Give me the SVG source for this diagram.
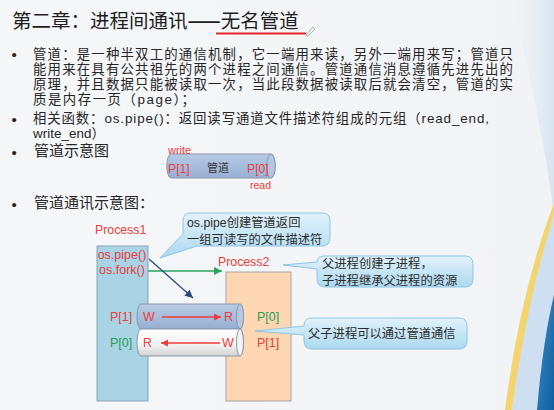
<svg xmlns="http://www.w3.org/2000/svg" width="554" height="410" viewBox="0 0 554 410">
<defs>
<style>
.t{font-family:"Liberation Sans","Noto Sans CJK SC",sans-serif;}
.body{font-size:15px;fill:#262626}
.para{font-size:13.4px}
.red{fill:#e8403a}
.green{fill:#2a9d55}
.lbl{font-size:12.5px}
.call{font-size:12.3px;fill:#2b2b2b}
.callout{fill:url(#callg);stroke:#8ec6e4;stroke-width:1}
.pstroke{stroke:#8a98aa;stroke-width:1}
</style>
<linearGradient id="bg" x1="0" y1="0" x2="1" y2="0"><stop offset="0" stop-color="#f6f7f9"/><stop offset="1" stop-color="#f1f3f6"/></linearGradient>
<linearGradient id="callg" x1="0" y1="0" x2="0" y2="1"><stop offset="0" stop-color="#e2f2fb"/><stop offset="1" stop-color="#acd9ef"/></linearGradient>
<linearGradient id="blueCyl" x1="0" y1="0" x2="0" y2="1"><stop offset="0" stop-color="#b8cbe6"/><stop offset="0.5" stop-color="#a7bddd"/><stop offset="1" stop-color="#98afd2"/></linearGradient>
<linearGradient id="whiteCyl" x1="0" y1="0" x2="0" y2="1"><stop offset="0" stop-color="#ffffff"/><stop offset="0.6" stop-color="#f2f2f2"/><stop offset="1" stop-color="#d2d2d2"/></linearGradient>
<linearGradient id="dblue" x1="0" y1="0" x2="1" y2="1"><stop offset="0" stop-color="#3d8cc8"/><stop offset="1" stop-color="#0f5f9f"/></linearGradient>
<linearGradient id="pale" x1="0" y1="0" x2="1" y2="0"><stop offset="0" stop-color="#e8eef5" stop-opacity="0"/><stop offset="1" stop-color="#d6e3ef"/></linearGradient>
<marker id="ahRed" viewBox="0 0 10 10" refX="10" refY="5" markerWidth="8" markerHeight="7" markerUnits="userSpaceOnUse" orient="auto"><path d="M0,0 L10,5 L0,10 Z" fill="#f03c3c"/></marker>
<marker id="ahGreen" viewBox="0 0 10 10" refX="10" refY="5" markerWidth="9" markerHeight="8" markerUnits="userSpaceOnUse" orient="auto"><path d="M0,0 L10,5 L0,10 Z" fill="#27a35f"/></marker>
<marker id="ahBlue" viewBox="0 0 10 10" refX="10" refY="5" markerWidth="9" markerHeight="8" markerUnits="userSpaceOnUse" orient="auto"><path d="M0,0 L10,5 L0,10 Z" fill="#2d4a7c"/></marker>
</defs>

<!-- background -->
<rect x="0" y="0" width="554" height="410" fill="url(#bg)"/>
<path d="M512,0 L554,0 L554,215 C545,140 526,60 512,0 Z" fill="url(#pale)"/>
<path d="M512,410 Q526,300 554,205 L554,410 Z" fill="#cddff0"/>
<path d="M505,410 Q520,292 554,203 L554,214 Q527,300 512,410 Z" fill="#f4d46e"/>
<path d="M537,410 Q543,340 554,295 L554,410 Z" fill="url(#dblue)"/>

<!-- title -->
<g id="title">
<text class="t" x="12" y="27.5" font-size="19.5" fill="#1e1e1e">第二章：进程间通讯<tspan font-family="Noto Sans CJK SC" font-weight="bold">——</tspan>无名管道</text>
<line x1="216" y1="33.5" x2="306" y2="33.5" stroke="#e3242b" stroke-width="2"/>
<path d="M306,35 L313,27 L315,29 L308,36 Z" fill="none" stroke="#9a9a9a" stroke-width="0.8"/>
</g>

<!-- bullet text -->
<g id="bullets" class="t body">
<text x="11.5" y="60">•</text>
<text class="para" x="33" y="58.7" textLength="480" lengthAdjust="spacing">管道：是一种半双工的通信机制，它一端用来读，另外一端用来写；管道只</text>
<text class="para" x="33" y="73.7" textLength="480" lengthAdjust="spacing">能用来在具有公共祖先的两个进程之间通信。管道通信消息遵循先进先出的</text>
<text class="para" x="33" y="88.7" textLength="480" lengthAdjust="spacing">原理，并且数据只能被读取一次，当此段数据被读取后就会清空，管道的实</text>
<text class="para" x="33" y="103.7" textLength="162" lengthAdjust="spacing">质是内存一页（page）；</text>
<text x="11.5" y="124.5">•</text>
<text class="para" x="33" y="123.1" textLength="456" lengthAdjust="spacing">相关函数：os.pipe()：返回读写通道文件描述符组成的元组（read_end,</text>
<text class="para" x="33" y="138.1" textLength="72" lengthAdjust="spacing">write_end）</text>
<text x="11.5" y="157.5">•</text>
<text x="34" y="155.7">管道示意图</text>
<text x="11.5" y="209.5">•</text>
<text x="34" y="207.5">管道通讯示意图：</text>
</g>

<!-- small pipe -->
<g id="small-pipe">
<path d="M171,154 H271 A4.2,12 0 0 1 271,178 H171 A4.2,12 0 0 1 171,154 Z" fill="url(#blueCyl)" class="pstroke"/>
<ellipse cx="271" cy="166" rx="4.2" ry="12" fill="#b3c6e2" class="pstroke"/>
<text class="t red" x="168" y="154" font-size="11">write</text>
<text class="t red" x="168" y="172.5" font-size="12.2">P[1]</text>
<text class="t" x="207" y="172" font-size="11" fill="#333">管道</text>
<text class="t red" x="247" y="172.5" font-size="12.2">P[0]</text>
<text class="t red" x="250" y="189" font-size="10.5">read</text>
</g>

<!-- process 1 -->
<g id="process1">
<rect x="97" y="246" width="51" height="155" fill="#a9d4e5" stroke="#8aa3b3" stroke-width="1"/>
<text class="t red" x="95" y="234.4" font-size="12.3">Process1</text>
<text class="t red" x="122" y="258.5" font-size="12.5" text-anchor="middle">os.pipe()</text>
<text class="t red" x="122" y="274" font-size="12.5" text-anchor="middle">os.fork()</text>
</g>

<!-- process 2 -->
<g id="process2">
<rect x="226" y="272" width="65" height="129" fill="#fdd6b4" stroke="#a5a5a5" stroke-width="1"/>
<text class="t red" x="218" y="266.4" font-size="12.3">Process2</text>
</g>

<!-- pipes -->
<g id="pipe-upper">
<path d="M141,304 H240 A3.5,12.5 0 0 1 240,329 H141 A4,12.5 0 0 1 141,304 Z" fill="url(#blueCyl)" class="pstroke"/>
<ellipse cx="240" cy="316.5" rx="3.5" ry="12.5" fill="#b6c8e3" class="pstroke"/>
</g>
<g id="pipe-lower">
<path d="M141,329 H240 A3.5,13.5 0 0 1 240,356 H141 A4,13.5 0 0 1 141,329 Z" fill="url(#whiteCyl)" class="pstroke"/>
<ellipse cx="240" cy="342.5" rx="3.5" ry="13.5" fill="#f4f4f4" class="pstroke"/>
</g>
<g id="pipe-labels" class="t lbl">
<text class="red" x="110" y="321.2">P[1]</text>
<text class="red" x="143" y="321.2">W</text>
<text class="red" x="224" y="321.2">R</text>
<text class="green" x="257" y="321.2">P[0]</text>
<text class="green" x="110" y="347.2">P[0]</text>
<text class="red" x="143" y="347.2">R</text>
<text class="red" x="222" y="347.2">W</text>
<text class="red" x="257" y="347.2">P[1]</text>
</g>

<!-- connectors -->
<g id="connectors" fill="none">
<line x1="148" y1="271" x2="222" y2="271" stroke="#27a35f" stroke-width="1.5" marker-end="url(#ahGreen)"/>
<line x1="149" y1="259" x2="193" y2="298" stroke="#2d4a7c" stroke-width="1.3" marker-end="url(#ahBlue)"/>
<line x1="162" y1="317" x2="221" y2="317" stroke="#f03c3c" stroke-width="1.3" marker-end="url(#ahRed)"/>
<line x1="220" y1="343" x2="161" y2="343" stroke="#f03c3c" stroke-width="1.3" marker-end="url(#ahRed)"/>
</g>

<!-- callouts -->
<g id="callout-pipe">
<path class="callout" d="M191,213 H322 Q330,213 330,221 V238 Q330,246 322,246 H197 L160,258 L183,234 V221 Q183,213 191,213 Z"/>
<text class="t call"><tspan x="187" y="227.4">os.pipe创建管道返回</tspan><tspan x="187" y="243.5">一组可读写的文件描述符</tspan></text>
</g>
<g id="callout-fork">
<path class="callout" d="M325,256 H465 Q473,256 473,264 V279 Q473,287 465,287 H325 Q317,287 317,279 V269 L283,265 L317,262 Q317,256 325,256 Z"/>
<text class="t call"><tspan x="322" y="268">父进程创建子进程，</tspan><tspan x="322" y="284.5">子进程继承父进程的资源</tspan></text>
</g>
<g id="callout-comm">
<path class="callout" d="M312,318 H459 Q467,318 467,326 V341 Q467,349 459,349 H312 Q304,349 304,341 V335 L255,331 L304,326 Q304,318 312,318 Z"/>
<text class="t call" x="308" y="337.7">父子进程可以通过管道通信</text>
</g>
</svg>
